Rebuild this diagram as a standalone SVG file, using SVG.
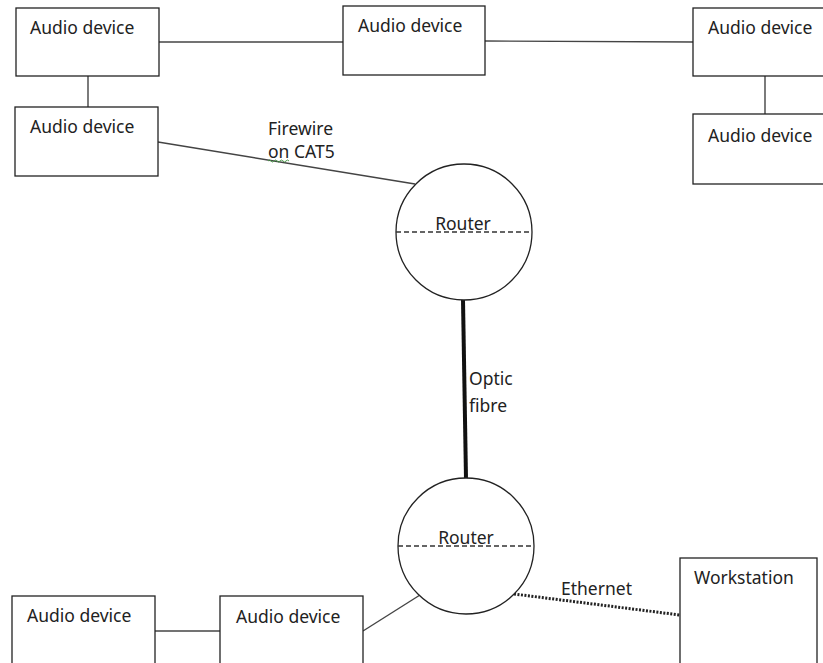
<svg xmlns="http://www.w3.org/2000/svg" width="823" height="663" viewBox="0 0 823 663">
<style>
.box{fill:#fff;stroke:#222;stroke-width:1.3}
.rt{fill:#fff;stroke:#222;stroke-width:1.3}
.div{stroke:#333;stroke-width:1.6;stroke-dasharray:5 3;fill:none}
.c{stroke:#444;stroke-width:1.4;fill:none}
.t{font-family:"Noto Sans","Open Sans",sans-serif;font-size:17.5px;fill:#222}
</style>
<rect width="823" height="663" fill="#fff"/>
<g id="connectors">
<line class="c" x1="159" y1="42" x2="343" y2="42"/>
<line class="c" x1="485" y1="41" x2="693" y2="42"/>
<line class="c" x1="88" y1="76" x2="88" y2="107"/>
<line class="c" x1="765" y1="76" x2="765" y2="114"/>
<line class="c" x1="158" y1="142" x2="415" y2="184"/>
<line stroke="#111" stroke-width="4" x1="463" y1="300" x2="466" y2="479"/>
<line class="c" x1="363" y1="631" x2="420" y2="595"/>
<line class="c" x1="155" y1="631" x2="220" y2="631"/>
<line stroke="#222" stroke-width="3" stroke-dasharray="2 1.5" x1="514" y1="594" x2="680" y2="615"/>
<text class="t" x="268" y="135" font-size="16">Firewire</text>
<text class="t" x="268" y="158" font-size="16">on CAT5</text>
<path d="M268 161 q1.5 -2 3 0 t3 0 t3 0 t3 0 t3 0 t3 0 t3 0" stroke="#4a9a4a" stroke-width="1" fill="none"/>
<text class="t" x="469" y="385">Optic</text>
<text class="t" x="469" y="412">fibre</text>
<text class="t" x="561" y="595">Ethernet</text>
</g>
<g id="audio1"><rect class="box" x="16" y="8" width="143" height="68"/><text class="t" x="30" y="34">Audio device</text></g>
<g id="audio2"><rect class="box" x="15" y="107" width="143" height="69"/><text class="t" x="30" y="133">Audio device</text></g>
<g id="audio3"><rect class="box" x="343" y="6" width="142" height="69"/><text class="t" x="358" y="32">Audio device</text></g>
<g id="audio4"><rect class="box" x="693" y="8" width="135" height="68"/><text class="t" x="708" y="34">Audio device</text></g>
<g id="audio5"><rect class="box" x="693" y="114" width="135" height="70"/><text class="t" x="708" y="142">Audio device</text></g>
<g id="router1"><circle class="rt" cx="464" cy="232" r="68"/><line class="div" x1="396" y1="232" x2="532" y2="232"/><text class="t" x="463" y="230" text-anchor="middle" font-size="17.3">Router</text></g>
<g id="router2"><circle class="rt" cx="466" cy="546" r="68"/><line class="div" x1="398" y1="546" x2="534" y2="546"/><text class="t" x="466" y="544" text-anchor="middle" font-size="17.3">Router</text></g>
<g id="audio6"><rect class="box" x="12" y="596" width="143" height="80"/><text class="t" x="27" y="622">Audio device</text></g>
<g id="audio7"><rect class="box" x="220" y="596" width="143" height="80"/><text class="t" x="236" y="623">Audio device</text></g>
<g id="workstation"><rect class="box" x="680" y="558" width="137" height="120"/><text class="t" x="694" y="584">Workstation</text></g>
</svg>
